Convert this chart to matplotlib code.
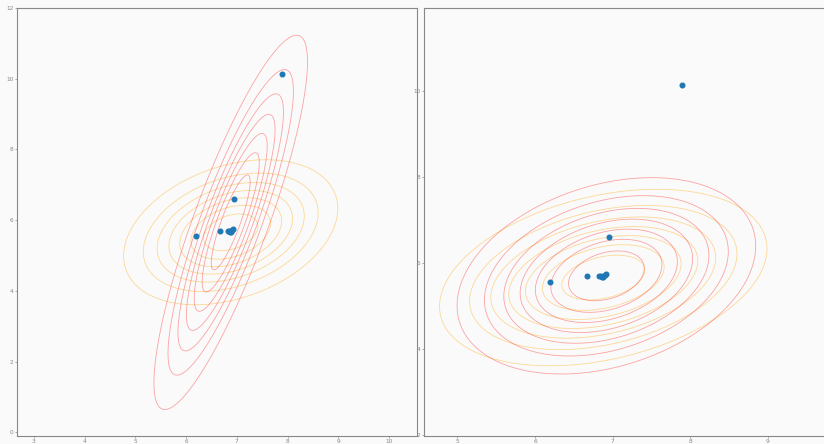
import matplotlib
matplotlib.use("Agg")
import matplotlib.pyplot as plt
import numpy as np

# observed points (same in both panels)
pts_x = [6.82, 6.85, 6.87, 6.88, 6.90, 6.92, 6.67, 6.20, 6.95, 7.90]
pts_y = [5.70, 5.69, 5.67, 5.68, 5.71, 5.74, 5.69, 5.56, 6.60, 10.13]

# reference gaussian (orange), drawn in both panels
orange_mean = [6.88, 5.66]
orange_cov = [[1.07, 0.34], [0.34, 1.01]]

# fitted gaussians (red), one per panel
red_left_mean = [6.88, 5.94]
red_left_cov = [[0.55, 1.65], [1.65, 6.73]]
red_right_mean = [6.92, 5.70]
red_right_cov = [[0.89, 0.32], [0.32, 1.25]]

# contour levels as fraction of peak density
levels = [0.125, 0.25, 0.375, 0.5, 0.625, 0.75, 0.875]


def density(X, Y, mean, cov):
    P = np.linalg.inv(np.array(cov))
    dx = X - mean[0]
    dy = Y - mean[1]
    d2 = P[0, 0] * dx**2 + 2 * P[0, 1] * dx * dy + P[1, 1] * dy**2
    return np.exp(-0.5 * d2)


def draw_panel(ax, red_mean, red_cov, xlim, ylim):
    gx = np.linspace(xlim[0], xlim[1], 700)
    gy = np.linspace(ylim[0], ylim[1], 700)
    X, Y = np.meshgrid(gx, gy)
    ax.contour(X, Y, density(X, Y, orange_mean, orange_cov), levels=levels,
               colors="orange", alpha=0.4, linewidths=0.6)
    ax.contour(X, Y, density(X, Y, red_mean, red_cov), levels=levels,
               colors="red", alpha=0.35, linewidths=0.6)
    ax.scatter(pts_x, pts_y, s=11, color="#1f77b4", zorder=3)
    ax.set_xlim(*xlim)
    ax.set_ylim(*ylim)
    ax.set_facecolor("#fafafa")
    for sp in ax.spines.values():
        sp.set_color("#888888")
    ax.tick_params(labelsize=4.2, labelcolor="#888888", color="#888888",
                   length=1.5, width=0.5, pad=1)


fig = plt.figure(figsize=(8.24, 4.44), dpi=100)
fig.patch.set_facecolor("#fafafa")

ax1 = fig.add_axes([17 / 824, 8 / 444, 400 / 824, 428 / 444])
draw_panel(ax1, red_left_mean, red_left_cov, (2.67, 10.55), (-0.1, 12.0))
ax1.set_xticks(range(3, 11))
ax1.set_yticks(range(0, 13, 2))

ax2 = fig.add_axes([424 / 824, 8 / 444, 402 / 824, 428 / 444])
draw_panel(ax2, red_right_mean, red_right_cov, (4.57, 9.75), (1.98, 11.92))
ax2.set_xticks(range(5, 10))
ax2.set_yticks(range(2, 11, 2))

fig.savefig("out.png", dpi=100, facecolor=fig.get_facecolor())
